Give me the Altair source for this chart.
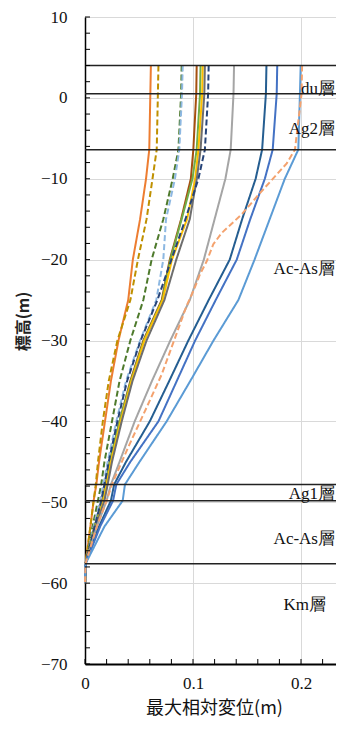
import altair as alt
import pandas as pd

# ---------------- data ----------------
elev = [4, 0.5, -6.4, -10, -15, -20, -25, -30, -35, -40, -45, -47.8, -49.8, -53, -57.6, -60]

orange_solid   = [0.061, 0.0605, 0.0595, 0.0565, 0.051, 0.0443, 0.040, 0.031, 0.024, 0.0185, 0.013, 0.0105, 0.008, 0.005, 0.0005, 0]
gold_dashed    = [0.068, 0.0675, 0.0664, 0.0625, 0.057, 0.049, 0.042, 0.030, 0.022, 0.0165, 0.012, 0.010, 0.008, 0.005, 0.0005, 0]
green_dashed   = [0.0895, 0.089, 0.0865, 0.0812, 0.0725, 0.0617, 0.054, 0.042, 0.032, 0.025, 0.018, 0.015, 0.012, 0.007, 0.0005, 0]
skyblue_dashed = [0.0905, 0.0898, 0.0873, 0.0833, 0.075, 0.0725, 0.066, 0.051, 0.038, 0.029, 0.021, 0.017, 0.014, 0.008, 0.0005, 0]
brown_solid    = [0.1034, 0.103, 0.1003, 0.098, 0.089, 0.0785, 0.071, 0.054, 0.042, 0.032, 0.023, 0.019, 0.016, 0.009, 0.0005, 0]
green_solid    = [0.107, 0.1065, 0.1034, 0.0995, 0.0895, 0.079, 0.0715, 0.0545, 0.0425, 0.032, 0.023, 0.0195, 0.0165, 0.009, 0.0005, 0]
yellow_solid   = [0.109, 0.1085, 0.105, 0.102, 0.0945, 0.0805, 0.072, 0.055, 0.043, 0.033, 0.024, 0.020, 0.017, 0.010, 0.0005, 0]
dgray_solid    = [0.111, 0.1105, 0.107, 0.1035, 0.097, 0.0845, 0.0735, 0.057, 0.044, 0.034, 0.025, 0.021, 0.018, 0.010, 0.0005, 0]
navy_dashed    = [0.1145, 0.114, 0.111, 0.105, 0.093, 0.080, 0.067, 0.0515, 0.039, 0.030, 0.022, 0.018, 0.015, 0.009, 0.0005, 0]
lgray_solid    = [0.138, 0.1375, 0.1349, 0.130, 0.120, 0.110, 0.097, 0.079, 0.062, 0.046, 0.032, 0.024, 0.020, 0.011, 0.0005, 0]
steel_solid    = [0.168, 0.1675, 0.164, 0.158, 0.1455, 0.134, 0.1145, 0.0957, 0.078, 0.060, 0.038, 0.027, 0.024, 0.013, 0.0005, 0]
royal_solid    = [0.178, 0.1775, 0.1738, 0.1665, 0.153, 0.1405, 0.121, 0.102, 0.085, 0.068, 0.042, 0.029, 0.026, 0.014, 0.0005, 0]
lblue_solid    = [0.1997, 0.199, 0.1975, 0.185, 0.171, 0.157, 0.142, 0.119, 0.0975, 0.0756, 0.0505, 0.037, 0.0349, 0.018, 0.0005, 0]

salmon_elev    = [4, 0.5, -6.4, -8.1, -11.8, -14.4, -16.7, -18.1, -20.2, -21.8, -23.9, -25.7,
                  -29.7, -34.2, -38.7, -43.2, -46.9, -47.8, -49.8, -53, -57.6, -60]
salmon_dashed  = [0.201, 0.2005, 0.1944, 0.1868, 0.1618, 0.1451, 0.1266, 0.1188, 0.1127, 0.1065, 0.1003, 0.0941,
                  0.0833, 0.071, 0.0556, 0.040, 0.0278, 0.025, 0.020, 0.011, 0.0005, 0]

series = [
    ("s01", orange_solid,   elev,        "#ED7D31", "solid"),
    ("s02", gold_dashed,    elev,        "#BF9000", "dash"),
    ("s03", green_dashed,   elev,        "#4E7A2C", "dash"),
    ("s04", skyblue_dashed, elev,        "#8DB8E2", "dash"),
    ("s05", brown_solid,    elev,        "#A5500F", "solid"),
    ("s06", green_solid,    elev,        "#70AD47", "solid"),
    ("s07", yellow_solid,   elev,        "#FFC000", "solid"),
    ("s08", dgray_solid,    elev,        "#6E6E6E", "solid"),
    ("s09", navy_dashed,    elev,        "#264478", "dash"),
    ("s10", lgray_solid,    elev,        "#A5A5A5", "solid"),
    ("s11", steel_solid,    elev,        "#255E91", "solid"),
    ("s12", royal_solid,    elev,        "#4472C4", "solid"),
    ("s13", lblue_solid,    elev,        "#5B9BD5", "solid"),
    ("s14", salmon_dashed,  salmon_elev, "#F4A26E", "dash"),
]

layer_bounds = [4, 0.5, -6.4, -47.8, -49.8, -57.6]
layer_names = ["du層", "Ag2層", "Ac-As層", "Ag1層", "Ac-As層"]
layer_label_elev = [1.1, -3.9, -21.2, -49.0, -54.5]
km_name = ["Km層"]
km_label_elev = [-62.7]

y_major = [10, 0, -10, -20, -30, -40, -50, -60, -70]
y_minor = list(range(-70, 11, 2))
x_major = [0, 0.1, 0.2]
x_minor = [0, 0.02, 0.04, 0.06, 0.08, 0.1, 0.12, 0.14, 0.16, 0.18, 0.2, 0.22]

# ---------------- build tables ----------------
rows = []
for name, xs_, ys_, col, dash in series:
    for i, (xv, yv) in enumerate(zip(xs_, ys_)):
        rows.append({"name": name, "disp": xv, "elev": yv, "idx": i, "dash": dash})
df = pd.DataFrame(rows)

names = [s[0] for s in series]
colors = [s[3] for s in series]

W, H = 251, 647
XD = [0, 0.2324]
YD = [-70, 10]

xs = alt.Scale(domain=XD, nice=False, zero=False)
ys = alt.Scale(domain=YD, nice=False, zero=False)

serif = "Liberation Serif"
sans = "Noto Sans CJK JP"

x_axis = alt.Axis(values=x_major, labelExpr="datum.value == 0 ? '0' : format(datum.value, '.1f')",
                  ticks=False, tickSize=0, grid=True, gridColor="#d9d9d9", gridWidth=1,
                  domainColor="black", domainWidth=2,
                  labelFont=serif, labelFontSize=17, labelColor="#111", labelPadding=11,
                  labelFlush=False,
                  title="最大相対変位(m)", titleFont=sans, titleFontSize=18,
                  titleFontWeight="normal", titleColor="#111",
                  titleX=129, titleY=44, titleBaseline="middle")
y_axis = alt.Axis(values=y_major, ticks=False, tickSize=0, grid=True, gridColor="#d9d9d9",
                  gridWidth=1, domainColor="black", domainWidth=1.5,
                  labelFont=serif, labelFontSize=17, labelColor="#111", labelPadding=18,
                  labelFlush=False,
                  title="標高(m)", titleFont=sans, titleFontSize=16, titleFontWeight="bold",
                  titleColor="#222", titleX=-62, titleY=304, titleBaseline="middle",
                  titleAlign="center", titleAngle=270)

lines = alt.Chart(df).mark_line(strokeWidth=2).encode(
    x=alt.X("disp:Q", scale=xs, axis=x_axis),
    y=alt.Y("elev:Q", scale=ys, axis=y_axis),
    color=alt.Color("name:N", scale=alt.Scale(domain=names, range=colors), legend=None),
    strokeDash=alt.StrokeDash("dash:N", scale=alt.Scale(domain=["solid", "dash"], range=[[1, 0], [6, 3]]),
                              legend=None),
    detail="name:N",
    order="idx:Q",
)

bounds = alt.Chart(pd.DataFrame({"elev": layer_bounds})).mark_rule(color="#222", strokeWidth=1.5).encode(
    y=alt.Y("elev:Q", scale=ys)
)

labels = alt.Chart(pd.DataFrame({"t": layer_names, "elev": layer_label_elev})).mark_text(
    align="right", baseline="middle", font=serif, fontSize=17, color="#111"
).encode(x=alt.value(W - 1), y=alt.Y("elev:Q", scale=ys), text="t:N")

km = alt.Chart(pd.DataFrame({"t": km_name, "elev": km_label_elev})).mark_text(
    align="right", baseline="middle", font=serif, fontSize=17, color="#111"
).encode(x=alt.value(W - 10), y=alt.Y("elev:Q", scale=ys), text="t:N")

ytick = alt.Chart(pd.DataFrame({"elev": y_minor})).mark_rule(color="black", strokeWidth=1).encode(
    y=alt.Y("elev:Q", scale=ys), x=alt.value(0), x2=alt.value(5)
)
xtick = alt.Chart(pd.DataFrame({"disp": x_minor})).mark_rule(color="black", strokeWidth=1).encode(
    x=alt.X("disp:Q", scale=xs), y=alt.value(H), y2=alt.value(H - 5)
)

chart = alt.layer(lines, bounds, labels, km, ytick, xtick).properties(
    width=W, height=H,
    padding={"left": 77, "top": 9, "right": 0, "bottom": 54},
    autosize=alt.AutoSizeParams(type="none"),
).configure_view(stroke="black", strokeWidth=1).configure(background="white")

chart.save("out.html", embed_options={"renderer": "svg", "actions": False})
